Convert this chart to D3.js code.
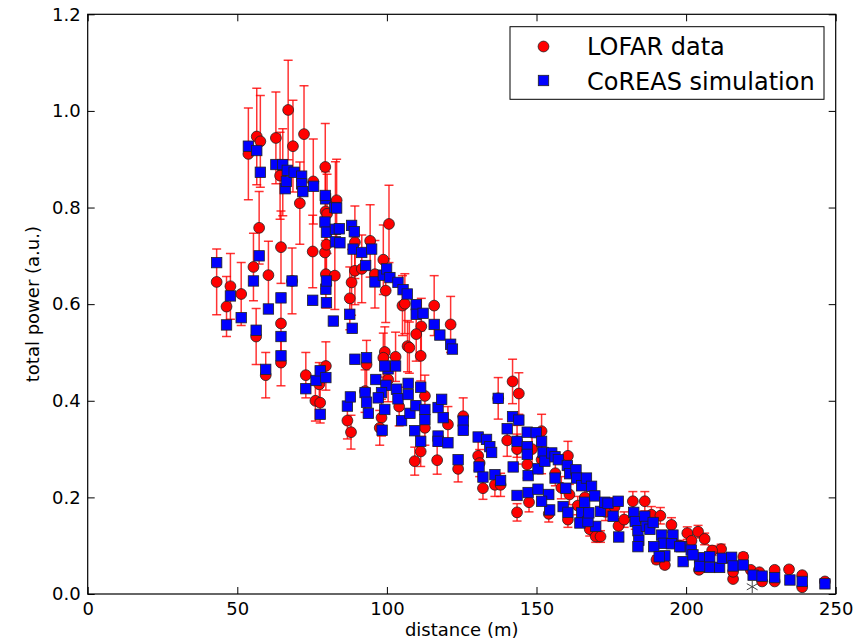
<!DOCTYPE html>
<html>
<head>
<meta charset="utf-8">
<script src="https://cdn.jsdelivr.net/npm/d3@7"></script>
<style>
  body { margin: 0; background: #fff; }
  text { font-family: "DejaVu Sans", sans-serif; fill: #000; }
</style>
</head>
<body>
<script>
// LOFAR measurements: distance (m), total power (a.u.), error
var lofarDist = [43.1,46.4,47.7,51.3,55.4,56.3,57.3,59.5,60.4,64.6,64.6,64.6,68.3,75.2,72.9,76.1,77.7,79.6,77.4,79.3,79.8,79.5,80.0,79.6,82.6,82.8,
  53.7,56.5,57.7,62.9,67.0,68.6,72.3,79.4,65.2,64.3,70.9,75.4,83.2,89.3,88.2,87.6,89.3,86.8,88.0,94.4,91.6,98.8,96.0,99.6,
  105.2,106.0,111.5,109.8,115.8,121.3,106.9,107.5,111.3,99.3,98.8,102.9,93.2,100.4,92.7,98.2,97.6,104.1,112.7,112.7,
  109.3,111.3,116.8,120.4,125.5,123.8,130.5,131.0,137.2,142.0,144.1,140.2,132.1,136.1,138.0,143.5,143.5,143.5,147.5,151.7,
  146.9,151.7,154.1,160.5,161.0,160.5,163.8,167.8,169.8,171.4,177.4,179.3,182.2,186.2,188.4,191.4,195.1,190.1,192.9,200.4,
  204.0,206.2,204.3,211.7,215.7,215.7,219.1,225.4,229.6,229.6,234.4,238.8,238.8,246.4,
  148.5,156.3,158.3,166.2,173.1,176.1,183.0,197.9,201.8,208.7,221.6,224.5,100.7];
var lofarPower = [0.646,0.595,0.637,0.621,0.677,0.533,0.758,0.453,0.660,0.718,0.560,0.479,0.648,0.709,0.453,0.400,0.396,0.472,0.434,0.707,0.723,0.792,0.787,0.662,0.659,0.810,
  0.911,0.947,0.937,0.944,1.002,0.927,0.952,0.884,0.873,0.866,0.809,0.854,0.815,0.728,0.645,0.612,0.669,0.359,0.335,0.731,0.673,0.692,0.662,0.628,
  0.597,0.601,0.554,0.538,0.597,0.558,0.513,0.510,0.493,0.501,0.489,0.491,0.475,0.444,0.420,0.365,0.344,0.388,0.410,0.344,
  0.275,0.295,0.277,0.351,0.368,0.259,0.286,0.271,0.405,0.440,0.415,0.318,0.219,0.226,0.226,0.316,0.300,0.169,0.190,0.337,
  0.268,0.278,0.166,0.286,0.206,0.154,0.183,0.134,0.119,0.119,0.141,0.154,0.192,0.192,0.164,0.162,0.143,0.071,0.060,0.126,
  0.129,0.114,0.050,0.093,0.031,0.046,0.077,0.026,0.050,0.026,0.051,0.039,0.014,0.026,
  0.300,0.250,0.220,0.200,0.170,0.180,0.150,0.100,0.110,0.090,0.050,0.045,0.766];
var lofarError = [0.068,0.062,0.068,0.065,0.070,0.058,0.075,0.047,0.070,0.075,0.060,0.048,0.068,0.075,0.047,0.042,0.042,0.050,0.045,0.075,0.075,0.082,0.082,0.070,0.070,0.085,
  0.095,0.100,0.095,0.095,0.103,0.095,0.100,0.090,0.090,0.090,0.085,0.088,0.085,0.075,0.068,0.065,0.070,0.038,0.035,0.075,0.070,0.072,0.070,0.066,
  0.062,0.062,0.058,0.056,0.062,0.058,0.053,0.053,0.052,0.052,0.051,0.051,0.050,0.046,0.044,0.038,0.036,0.040,0.043,0.036,
  0.029,0.031,0.029,0.037,0.038,0.027,0.030,0.028,0.043,0.046,0.043,0.033,0.023,0.024,0.024,0.033,0.031,0.018,0.020,0.035,
  0.028,0.029,0.017,0.030,0.021,0.016,0.019,0.014,0.012,0.012,0.015,0.016,0.020,0.020,0.017,0.017,0.015,0.008,0.007,0.013,
  0.013,0.012,0.006,0.010,0.004,0.005,0.008,0.003,0.006,0.003,0.006,0.004,0.002,0.003,
  0.031,0.026,0.023,0.021,0.018,0.019,0.016,0.011,0.012,0.010,0.006,0.005,0.080];

// CoREAS simulation: distance (m), total power (a.u.)
var simDist = [43.1,46.4,47.7,51.3,55.4,56.3,57.3,59.5,60.4,64.6,64.6,64.6,68.3,75.2,72.9,76.3,77.7,77.7,79.6,79.3,79.8,79.5,79.6,79.8,79.8,82.1,82.6,82.8,82.8,
  53.7,56.5,57.7,62.9,65.2,66.7,66.0,66.4,69.0,71.5,71.5,71.9,75.5,79.4,83.2,84.3,88.2,89.1,84.1,87.6,88.4,89.3,88.7,91.6,94.9,
  92.9,96.0,98.8,99.9,101.0,103.7,105.4,106.8,109.8,109.8,112.1,115.8,117.7,121.3,121.9,93.2,100.4,102.9,99.3,96.3,
  99.7,98.2,92.7,93.2,93.8,97.1,99.3,98.4,103.2,103.7,107.1,107.1,104.9,107.7,109.7,111.3,112.7,112.7,109.3,111.3,
  117.1,117.1,120.4,118.8,117.1,118.3,125.5,125.5,123.8,130.5,133.3,134.4,135.0,130.8,86.8,87.8,137.2,142.0,144.1,140.2,
  132.1,136.1,138.0,143.5,142.2,143.5,146.9,149.9,146.9,146.9,147.2,147.2,150.5,151.7,152.2,150.5,154.1,154.4,151.7,152.8,
  155.1,156.2,157.3,156.2,158.9,160.3,161.1,163.2,159.8,160.5,163.4,165.1,166.7,166.1,165.1,164.5,168.4,169.5,169.8,167.2,
  167.5,171.4,172.8,173.9,175.6,177.5,177.3,182.5,183.0,183.9,184.2,183.9,186.2,186.7,187.9,189.0,191.8,192.4,195.6,195.1,
  189.2,192.9,198.5,199.0,201.7,204.5,207.9,207.9,211.2,212.1,215.2,215.7,219.1,222.4,225.4,229.6,234.7,238.8,246.4,
  202.3,197.9,191.0,204.5];
var simPower = [0.686,0.557,0.617,0.572,0.648,0.546,0.700,0.465,0.590,0.613,0.533,0.493,0.648,0.608,0.425,0.442,0.372,0.462,0.448,0.770,0.749,0.818,0.631,0.648,0.603,0.565,0.800,0.755,0.729,
  0.927,0.918,0.873,0.889,0.889,0.877,0.839,0.854,0.873,0.865,0.849,0.833,0.844,0.825,0.799,0.727,0.763,0.750,0.756,0.579,0.550,0.486,0.714,0.707,0.714,
  0.680,0.646,0.660,0.673,0.655,0.645,0.630,0.621,0.599,0.579,0.581,0.558,0.536,0.517,0.507,0.489,0.466,0.472,0.472,0.444,
  0.432,0.417,0.417,0.397,0.374,0.406,0.382,0.339,0.424,0.404,0.436,0.413,0.359,0.374,0.390,0.428,0.382,0.361,0.338,0.316,
  0.327,0.316,0.313,0.365,0.386,0.403,0.358,0.339,0.278,0.325,0.320,0.305,0.293,0.263,0.389,0.408,0.405,0.367,0.360,0.342,
  0.242,0.247,0.235,0.316,0.263,0.204,0.335,0.334,0.305,0.289,0.245,0.210,0.259,0.316,0.293,0.217,0.206,0.174,0.192,0.275,
  0.292,0.284,0.278,0.240,0.181,0.266,0.249,0.257,0.219,0.169,0.240,0.224,0.240,0.190,0.168,0.147,0.223,0.203,0.140,0.150,
  0.168,0.171,0.190,0.188,0.161,0.118,0.192,0.169,0.150,0.131,0.111,0.098,0.161,0.140,0.134,0.148,0.122,0.105,0.122,0.104,
  0.098,0.079,0.098,0.067,0.091,0.075,0.077,0.055,0.055,0.074,0.076,0.058,0.060,0.039,0.037,0.034,0.029,0.026,0.021,
  0.081,0.098,0.077,0.057];

// lone star marker near the bottom
var starDist = [222.1];
var starPower = [0.015];

var xTicks = [0, 50, 100, 150, 200, 250];
var yTicks = [0.0, 0.2, 0.4, 0.6, 0.8, 1.0, 1.2];
var legendLabels = ["LOFAR data", "CoREAS simulation"];

var W = 867, H = 644;
var margin = {top: 14.3, right: 31.3, bottom: 50, left: 87.7},
    width = W - margin.left - margin.right,
    height = H - margin.top - margin.bottom;

var svg = d3.select("body").append("svg")
    .attr("width", W)
    .attr("height", H);

var g = svg.append("g")
    .attr("transform", "translate(" + margin.left + "," + margin.top + ")");

var x = d3.scaleLinear().domain([0, 250]).range([0, width]);
var y = d3.scaleLinear().domain([0, 1.2]).range([height, 0]);

var lofar = lofarDist.map(function(d, i) { return {x: d, y: lofarPower[i], e: lofarError[i]}; });
var sim = simDist.map(function(d, i) { return {x: d, y: simPower[i]}; });

g.append("clipPath").attr("id", "clip").append("rect")
    .attr("width", width).attr("height", height);
var plot = g.append("g").attr("clip-path", "url(#clip)");

// error bars
var eb = plot.append("g")
    .attr("stroke", "#ff0000")
    .attr("stroke-opacity", 0.8)
    .attr("stroke-width", 1.5);
eb.selectAll("line.v").data(lofar).enter().append("line")
    .attr("x1", function(d) { return x(d.x); })
    .attr("x2", function(d) { return x(d.x); })
    .attr("y1", function(d) { return y(d.y - d.e); })
    .attr("y2", function(d) { return y(d.y + d.e); });
[-1, 1].forEach(function(s) {
  eb.selectAll("line.cap" + s).data(lofar).enter().append("line")
    .attr("x1", function(d) { return x(d.x) - 4.5; })
    .attr("x2", function(d) { return x(d.x) + 4.5; })
    .attr("y1", function(d) { return y(d.y + s * d.e); })
    .attr("y2", function(d) { return y(d.y + s * d.e); });
});

// LOFAR circles
plot.selectAll("circle.lofar").data(lofar).enter().append("circle")
    .attr("cx", function(d) { return x(d.x); })
    .attr("cy", function(d) { return y(d.y); })
    .attr("r", 5.4)
    .attr("fill", "#ff0000")
    .attr("stroke", "#222")
    .attr("stroke-width", 0.8);

// CoREAS squares
plot.selectAll("rect.sim").data(sim).enter().append("rect")
    .attr("x", function(d) { return x(d.x) - 5.2; })
    .attr("y", function(d) { return y(d.y) - 5.2; })
    .attr("width", 10.4)
    .attr("height", 10.4)
    .attr("fill", "#0000ff")
    .attr("stroke", "#222")
    .attr("stroke-width", 0.8);

// star
plot.selectAll("path.star").data(starDist).enter().append("path")
    .attr("transform", function(d, i) { return "translate(" + x(d) + "," + y(starPower[i]) + ")"; })
    .attr("d", d3.symbol(d3.symbolAsterisk, 110))
    .attr("fill", "none")
    .attr("stroke", "#444")
    .attr("stroke-width", 1);

// axes, ticks inward on all sides
function styleAxis(sel) {
  sel.select(".domain").remove();
  sel.selectAll(".tick line").attr("stroke", "#000").attr("stroke-width", 1);
  sel.selectAll("text").style("font-size", "18px").attr("fill", "#000");
}
g.append("g").attr("transform", "translate(0," + height + ")")
    .call(d3.axisBottom(x).tickValues(xTicks).tickFormat(d3.format("d")).tickSize(-7).tickPadding(8))
    .call(styleAxis);
g.append("g")
    .call(d3.axisTop(x).tickValues(xTicks).tickFormat("").tickSize(-7))
    .call(styleAxis);
g.append("g")
    .call(d3.axisLeft(y).tickValues(yTicks).tickFormat(d3.format(".1f")).tickSize(-7).tickPadding(7))
    .call(styleAxis);
g.append("g").attr("transform", "translate(" + width + ",0)")
    .call(d3.axisRight(y).tickValues(yTicks).tickFormat("").tickSize(-7))
    .call(styleAxis);

g.append("rect")
    .attr("width", width).attr("height", height)
    .attr("fill", "none").attr("stroke", "#000").attr("stroke-width", 1.2);

// axis labels
svg.append("text")
    .attr("x", margin.left + width / 2)
    .attr("y", 636)
    .attr("text-anchor", "middle")
    .style("font-size", "18px")
    .text("distance (m)");
svg.append("text")
    .attr("transform", "translate(39," + (margin.top + height / 2) + ") rotate(-90)")
    .attr("text-anchor", "middle")
    .style("font-size", "18px")
    .text("total power (a.u.)");

// legend
var leg = svg.append("g");
leg.append("rect")
    .attr("x", 510).attr("y", 26.7)
    .attr("width", 314).attr("height", 72.6)
    .attr("fill", "#fff").attr("stroke", "#000").attr("stroke-width", 1);
leg.append("circle")
    .attr("cx", 543.5).attr("cy", 46.5).attr("r", 5.4)
    .attr("fill", "#ff0000").attr("stroke", "#222").attr("stroke-width", 0.8);
leg.append("rect")
    .attr("x", 538.3).attr("y", 75.3).attr("width", 10.4).attr("height", 10.4)
    .attr("fill", "#0000ff").attr("stroke", "#222").attr("stroke-width", 0.8);
leg.selectAll("text.lbl").data(legendLabels).enter().append("text")
    .attr("x", 587)
    .attr("y", function(d, i) { return 55 + i * 35; })
    .style("font-size", "24px")
    .text(function(d) { return d; });
</script>
</body>
</html>
